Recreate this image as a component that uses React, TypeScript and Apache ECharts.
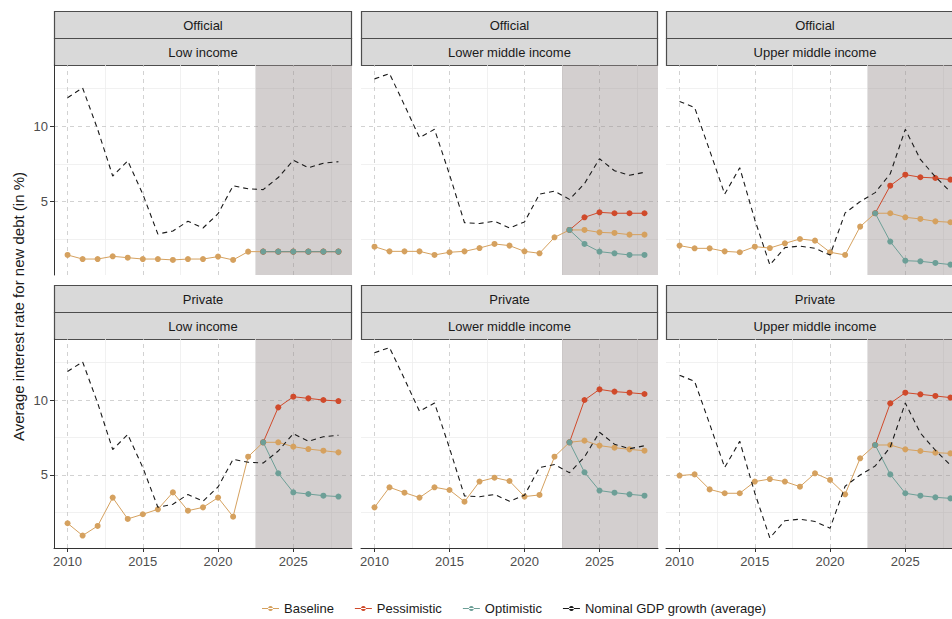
import React, { useEffect, useRef } from 'react';
import * as echarts from 'echarts';

// ---------- data ----------
const years = [2010, 2011, 2012, 2013, 2014, 2015, 2016, 2017, 2018, 2019, 2020, 2021, 2022, 2023, 2024, 2025, 2026, 2027, 2028];
const projectionYears = [2023, 2024, 2025, 2026, 2027, 2028];
const projectionStart = 2022.5;

const lenders = ['Official', 'Private'];
const incomeGroups = ['Low income', 'Lower middle income', 'Upper middle income'];

const xMajorTicks = [2010, 2015, 2020, 2025];
const xMinorTicks = [2012.5, 2017.5, 2022.5, 2027.5];
const yMajorTicks = [5, 10];
const yMinorTicks = [2.5, 7.5, 12.5];

// Nominal GDP growth (average), per income group
const gdpLowIncome = [11.9, 12.55, 9.8, 6.7, 7.7, 5.5, 2.85, 3.05, 3.7, 3.25, 4.2, 6.05, 5.85, 5.8, 6.6, 7.75, 7.25, 7.55, 7.65];
const gdpLowerMiddleIncome = [13.15, 13.5, 11.4, 9.25, 9.8, 6.8, 3.6, 3.55, 3.7, 3.25, 3.65, 5.5, 5.7, 5.15, 6.2, 7.85, 7.05, 6.75, 6.95];
const gdpUpperMiddleIncome = [11.65, 11.25, 8.4, 5.5, 7.25, 3.8, 0.8, 1.95, 2.05, 1.9, 1.45, 4.25, 5.0, 5.6, 6.85, 9.8, 7.8, 6.65, 5.65];

// Official creditors
const officialLowBaseline = [1.46, 1.19, 1.19, 1.37, 1.28, 1.19, 1.19, 1.13, 1.19, 1.19, 1.35, 1.13, 1.68, 1.68, 1.68, 1.68, 1.68, 1.68, 1.68];
const officialLowPessimistic = [1.68, 1.68, 1.68, 1.68, 1.68, 1.68];
const officialLowOptimistic = [1.68, 1.68, 1.68, 1.68, 1.68, 1.68];

const officialLowerMiddleBaseline = [2.01, 1.7, 1.7, 1.7, 1.46, 1.64, 1.7, 1.92, 2.19, 2.08, 1.7, 1.57, 2.63, 3.12, 3.12, 2.96, 2.92, 2.81, 2.81];
const officialLowerMiddlePessimistic = [3.12, 3.96, 4.29, 4.23, 4.23, 4.23];
const officialLowerMiddleOptimistic = [3.12, 2.19, 1.68, 1.57, 1.46, 1.46];

const officialUpperMiddleBaseline = [2.08, 1.9, 1.9, 1.7, 1.64, 2.01, 1.92, 2.23, 2.52, 2.41, 1.64, 1.46, 3.34, 4.23, 4.23, 3.96, 3.85, 3.69, 3.63];
const officialUpperMiddlePessimistic = [4.23, 6.06, 6.79, 6.62, 6.57, 6.46];
const officialUpperMiddleOptimistic = [4.23, 2.35, 1.08, 1.04, 0.93, 0.82];

// Private creditors
const privateLowBaseline = [1.78, 0.96, 1.6, 3.49, 2.07, 2.38, 2.71, 3.84, 2.62, 2.84, 3.49, 2.22, 6.22, 7.18, 7.18, 6.89, 6.73, 6.62, 6.51];
const privateLowPessimistic = [7.18, 9.51, 10.22, 10.11, 10.0, 9.93];
const privateLowOptimistic = [7.18, 5.11, 3.84, 3.73, 3.62, 3.56];

const privateLowerMiddleBaseline = [2.84, 4.18, 3.82, 3.49, 4.18, 4.0, 3.22, 4.56, 4.82, 4.6, 3.56, 3.67, 6.22, 7.18, 7.29, 6.96, 6.82, 6.71, 6.62];
const privateLowerMiddlePessimistic = [7.18, 10.0, 10.71, 10.56, 10.49, 10.4];
const privateLowerMiddleOptimistic = [7.18, 5.18, 3.96, 3.82, 3.71, 3.62];

const privateUpperMiddleBaseline = [4.96, 5.04, 4.04, 3.78, 3.78, 4.56, 4.73, 4.56, 4.22, 5.11, 4.67, 3.71, 6.11, 7.0, 7.0, 6.71, 6.6, 6.49, 6.44];
const privateUpperMiddlePessimistic = [7.0, 9.78, 10.49, 10.38, 10.27, 10.16];
const privateUpperMiddleOptimistic = [7.0, 5.04, 3.78, 3.62, 3.51, 3.44];

const seriesNames = ['Baseline', 'Pessimistic', 'Optimistic', 'Nominal GDP growth (average)'];
const yAxisTitle = 'Average interest rate for new debt (in %)';

// ---------- styling / layout ----------
const FONT = "'Liberation Sans', Arial, sans-serif";
const COLORS = {
  baseline: '#D5A15F',
  pessimistic: '#D04A2B',
  optimistic: '#6D9F97',
  gdp: '#1A1A1A',
};
const X_MIN = 2009.1;
const X_MAX = 2028.9;
const Y_MIN = 0.13;
const Y_MAX = 14.07;

const colLefts = [54, 361, 666];
const colWidths = [298, 297, 298];
const rowTops = [65, 339];
const rowHeights = [210, 209];
const STRIP_H = 27;

const legendIcon = 'path://M0,2h17v1h-17z M8.5,0a2.5,2.5 0 1,0 0.001,0z';

const panels = [
  { gdp: gdpLowIncome, baseline: officialLowBaseline, pessimistic: officialLowPessimistic, optimistic: officialLowOptimistic },
  { gdp: gdpLowerMiddleIncome, baseline: officialLowerMiddleBaseline, pessimistic: officialLowerMiddlePessimistic, optimistic: officialLowerMiddleOptimistic },
  { gdp: gdpUpperMiddleIncome, baseline: officialUpperMiddleBaseline, pessimistic: officialUpperMiddlePessimistic, optimistic: officialUpperMiddleOptimistic },
  { gdp: gdpLowIncome, baseline: privateLowBaseline, pessimistic: privateLowPessimistic, optimistic: privateLowOptimistic },
  { gdp: gdpLowerMiddleIncome, baseline: privateLowerMiddleBaseline, pessimistic: privateLowerMiddlePessimistic, optimistic: privateLowerMiddleOptimistic },
  { gdp: gdpUpperMiddleIncome, baseline: privateUpperMiddleBaseline, pessimistic: privateUpperMiddlePessimistic, optimistic: privateUpperMiddleOptimistic },
];

function buildOption() {
  const grid: any[] = [];
  const xAxis: any[] = [];
  const yAxis: any[] = [];
  const series: any[] = [];
  const graphic: any[] = [];

  const majorLine = { color: '#C6C6C6', type: [4, 4], width: 0.8 };
  const minorLine = { color: '#EDEDED', type: 'solid', width: 0.8 };

  panels.forEach((p, i) => {
    const r = Math.floor(i / 3);
    const c = i % 3;
    grid.push({
      left: colLefts[c],
      top: rowTops[r],
      width: colWidths[c],
      height: rowHeights[r],
      outerBoundsMode: 'none',
      containLabel: false,
    });
    const showX = r === 1;
    const showY = c === 0;
    xAxis.push({
      type: 'value',
      gridIndex: i,
      min: X_MIN,
      max: X_MAX,
      axisLine: { show: showX, lineStyle: { color: '#333333', width: 1 } },
      axisTick: { show: showX, customValues: xMajorTicks, length: 4, lineStyle: { color: '#333333' } },
      axisLabel: {
        show: showX,
        customValues: xMajorTicks,
        formatter: (v: number) => String(v),
        color: '#4D4D4D',
        fontSize: 13,
        fontFamily: FONT,
        margin: 7,
      },
      splitLine: { show: false },
    });
    yAxis.push({
      type: 'value',
      gridIndex: i,
      min: Y_MIN,
      max: Y_MAX,
      axisLine: { show: showY, lineStyle: { color: '#333333', width: 1 } },
      axisTick: { show: showY, customValues: yMajorTicks, length: 4, lineStyle: { color: '#333333' } },
      axisLabel: {
        show: showY,
        customValues: yMajorTicks,
        formatter: (v: number) => String(v),
        color: '#4D4D4D',
        fontSize: 13,
        fontFamily: FONT,
        margin: 6,
      },
      splitLine: { show: false },
    });

    const gridLines: any[] = [];
    yMinorTicks.forEach((v) => gridLines.push({ yAxis: v, lineStyle: minorLine }));
    xMinorTicks.forEach((v) => gridLines.push({ xAxis: v, lineStyle: minorLine }));
    yMajorTicks.forEach((v) => gridLines.push({ yAxis: v, lineStyle: majorLine }));
    xMajorTicks.forEach((v) => gridLines.push({ xAxis: v, lineStyle: majorLine }));

    series.push({
      type: 'line',
      xAxisIndex: i,
      yAxisIndex: i,
      data: [[X_MIN, Y_MIN]],
      showSymbol: false,
      silent: true,
      lineStyle: { opacity: 0 },
      z: 0,
      markLine: {
        silent: true,
        z: 0,
        symbol: ['none', 'none'],
        label: { show: false },
        data: gridLines,
      },
      markArea: {
        silent: true,
        z: 1,
        itemStyle: { color: 'rgba(150,140,140,0.42)' },
        data: [[{ xAxis: projectionStart }, { xAxis: X_MAX }]],
      },
    });

    const mk = (name: string, color: string, xs: number[], vals: number[], z: number) => ({
      name,
      type: 'line',
      xAxisIndex: i,
      yAxisIndex: i,
      data: xs.map((x, k) => [x, vals[k]]),
      symbol: 'circle',
      symbolSize: 6,
      showSymbol: true,
      itemStyle: { color },
      lineStyle: { color, width: 1 },
      z,
    });
    series.push(mk(seriesNames[0], COLORS.baseline, years, p.baseline, 3));
    series.push(mk(seriesNames[1], COLORS.pessimistic, projectionYears, p.pessimistic, 4));
    series.push(mk(seriesNames[2], COLORS.optimistic, projectionYears, p.optimistic, 5));
    series.push({
      name: seriesNames[3],
      type: 'line',
      xAxisIndex: i,
      yAxisIndex: i,
      data: years.map((x, k) => [x, p.gdp[k]]),
      showSymbol: false,
      symbol: 'none',
      itemStyle: { color: COLORS.gdp },
      lineStyle: { color: COLORS.gdp, width: 1.1, type: [5, 4] },
      z: 6,
    });

    // facet strips
    const stripTop1 = rowTops[r] - 2 * STRIP_H;
    const stripTop2 = rowTops[r] - STRIP_H;
    const cx = colLefts[c] + colWidths[c] / 2;
    [
      { y: stripTop1, label: lenders[r] },
      { y: stripTop2, label: incomeGroups[c] },
    ].forEach((s) => {
      graphic.push({
        type: 'rect',
        shape: { x: colLefts[c] + 0.5, y: s.y + 0.5, width: colWidths[c] - 1, height: STRIP_H },
        style: { fill: '#D9D9D9', stroke: '#4D4D4D', lineWidth: 1.2 },
        silent: true,
      });
      graphic.push({
        type: 'text',
        x: cx,
        y: s.y + STRIP_H / 2 + 1,
        style: {
          text: s.label,
          fill: '#1A1A1A',
          fontSize: 13,
          fontFamily: FONT,
          textAlign: 'center',
          textVerticalAlign: 'middle',
        },
        silent: true,
      });
    });
  });

  graphic.push({
    type: 'text',
    x: 18,
    y: (rowTops[0] + rowTops[1] + rowHeights[1]) / 2,
    rotation: Math.PI / 2,
    style: {
      text: yAxisTitle,
      fill: '#1A1A1A',
      fontSize: 15,
      fontFamily: FONT,
      textAlign: 'center',
      textVerticalAlign: 'middle',
    },
    silent: true,
  });

  return {
    animation: false,
    backgroundColor: '#FFFFFF',
    textStyle: { fontFamily: FONT },
    grid,
    xAxis,
    yAxis,
    series,
    graphic,
    legend: {
      show: true,
      orient: 'horizontal',
      left: 262,
      top: 602,
      padding: 0,
      itemWidth: 17,
      itemHeight: 5,
      itemGap: 21,
      selectedMode: false,
      textStyle: { color: '#1A1A1A', fontSize: 13, fontFamily: FONT },
      data: seriesNames.map((n) => ({ name: n, icon: legendIcon })),
    },
  };
}

export default function App() {
  const ref = useRef<HTMLDivElement>(null);
  useEffect(() => {
    document.body.style.margin = '0';
    if (!ref.current) return;
    const chart = echarts.init(ref.current, undefined, { renderer: 'svg' });
    chart.setOption(buildOption() as any);
    return () => {
      chart.dispose();
    };
  }, []);
  return <div ref={ref} style={{ width: 952, height: 619 }} />;
}
